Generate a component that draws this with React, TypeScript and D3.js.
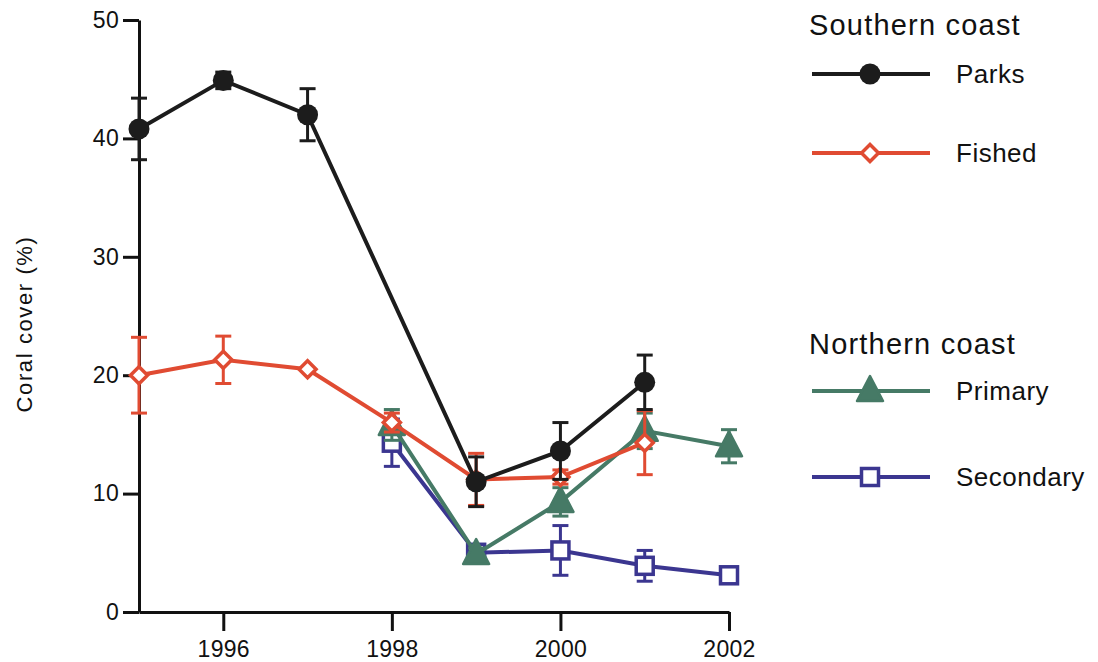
import React, { useEffect, useRef } from 'react';
import * as d3 from 'd3';

// years on the x axis
const years = [1995, 1996, 1997, 1998, 1999, 2000, 2001, 2002];
const xTicks = [1996, 1998, 2000, 2002];
const yTicks = [0, 10, 20, 30, 40, 50];

// mean coral cover (%) and error (+/-), null = not sampled
const parks = [40.8, 44.9, 42.0, null, 11.0, 13.6, 19.4, null];
const parksErr = [2.6, 0.7, 2.2, 0, 2.1, 2.4, 2.3, 0];
const fished = [20.0, 21.3, 20.5, 16.0, 11.2, 11.4, 14.3, null];
const fishedErr = [3.2, 2.0, 0, 0.8, 2.2, 0.6, 2.7, 0];
const primary = [null, null, null, 15.8, 4.9, 9.3, 15.3, 14.0];
const primaryErr = [0, 0, 0, 1.3, 0.5, 1.2, 1.5, 1.4];
const secondary = [null, null, null, 14.3, 5.0, 5.2, 3.9, 3.1];
const secondaryErr = [0, 0, 0, 2.0, 0.4, 2.1, 1.3, 0];

const FONT = '"Liberation Sans", Arial, sans-serif';

const series = [
  { name: 'Secondary', values: secondary, err: secondaryErr, color: '#3b3690', shape: 'square' },
  { name: 'Primary', values: primary, err: primaryErr, color: '#467a66', shape: 'triangle' },
  { name: 'Fished', values: fished, err: fishedErr, color: '#e04b32', shape: 'diamond' },
  { name: 'Parks', values: parks, err: parksErr, color: '#1c1c1c', shape: 'circle' },
];

const legendGroups = [
  { title: 'Southern coast', titleY: 35, items: [{ name: 'Parks', y: 74 }, { name: 'Fished', y: 153 }] },
  { title: 'Northern coast', titleY: 354, items: [{ name: 'Primary', y: 391 }, { name: 'Secondary', y: 477 }] },
];

function drawMarker(g: any, shape: string, color: string, cx: number, cy: number) {
  if (shape === 'circle') {
    g.append('circle').attr('cx', cx).attr('cy', cy).attr('r', 10.5).attr('fill', color);
  } else if (shape === 'diamond') {
    const s = 8.5;
    g.append('path')
      .attr('d', `M${cx},${cy - s}L${cx + s},${cy}L${cx},${cy + s}L${cx - s},${cy}Z`)
      .attr('fill', '#fff').attr('stroke', color).attr('stroke-width', 3.5)
      .attr('stroke-linejoin', 'miter');
  } else if (shape === 'triangle') {
    g.append('path')
      .attr('d', `M${cx},${cy - 15}L${cx + 13},${cy + 10}L${cx - 13},${cy + 10}Z`)
      .attr('fill', color).attr('stroke', color).attr('stroke-width', 2.5)
      .attr('stroke-linejoin', 'round');
  } else {
    g.append('rect')
      .attr('x', cx - 8.5).attr('y', cy - 8.5).attr('width', 17).attr('height', 17)
      .attr('fill', '#fff').attr('stroke', color).attr('stroke-width', 3.5);
  }
}

const App = () => {
  const ref = useRef<SVGSVGElement>(null);

  useEffect(() => {
    const svg = d3.select(ref.current);
    svg.selectAll('*').remove();

    const x = d3.scaleLinear().domain([1995, 2002]).range([139, 729]);
    const y = d3.scaleLinear().domain([0, 50]).range([612, 20]);

    // axes
    const yAxis = svg.append('g')
      .attr('transform', `translate(${x(1995)},0)`)
      .call(d3.axisLeft(y).tickValues(yTicks).tickSize(16).tickPadding(4).tickSizeOuter(0));
    const xAxis = svg.append('g')
      .attr('transform', `translate(0,${y(0)})`)
      .call(d3.axisBottom(x).tickValues(xTicks).tickFormat(d3.format('d')).tickSize(19).tickPadding(10).tickSizeOuter(0));

    [yAxis, xAxis].forEach(a => {
      a.select('.domain').attr('stroke', '#111').attr('stroke-width', 3);
      a.selectAll('.tick line').attr('stroke', '#111').attr('stroke-width', 3);
      a.selectAll('.tick text')
        .attr('fill', '#111')
        .style('font-family', FONT)
        .style('font-size', '23px')
        .style('letter-spacing', '0.3px');
    });

    svg.append('text')
      .attr('transform', `translate(32,${(y(0) + y(50)) / 2 + 8}) rotate(-90)`)
      .attr('text-anchor', 'middle')
      .style('font-family', FONT)
      .style('font-size', '22px')
      .style('letter-spacing', '1.6px')
      .attr('fill', '#111')
      .text('Coral cover (%)');

    // series lines, error bars and markers
    series.forEach(s => {
      const pts = years
        .map((yr, i) => ({ yr, v: s.values[i], e: s.err[i] }))
        .filter(p => p.v !== null) as { yr: number; v: number; e: number }[];
      const g = svg.append('g');

      g.append('path')
        .datum(pts)
        .attr('d', d3.line<any>().x(p => x(p.yr)).y(p => y(p.v)))
        .attr('fill', 'none')
        .attr('stroke', s.color)
        .attr('stroke-width', 4);

      pts.filter(p => p.e > 0).forEach(p => {
        const cx = x(p.yr);
        g.append('line')
          .attr('x1', cx).attr('x2', cx)
          .attr('y1', y(p.v - p.e)).attr('y2', y(p.v + p.e))
          .attr('stroke', s.color).attr('stroke-width', 3);
        [p.v - p.e, p.v + p.e].forEach(v => {
          g.append('line')
            .attr('x1', cx - 8).attr('x2', cx + 8)
            .attr('y1', y(v)).attr('y2', y(v))
            .attr('stroke', s.color).attr('stroke-width', 3);
        });
      });

      pts.forEach(p => drawMarker(g, s.shape, s.color, x(p.yr), y(p.v)));
    });

    // legend
    const lg = svg.append('g');
    legendGroups.forEach(grp => {
      lg.append('text')
        .attr('x', 809).attr('y', grp.titleY)
        .style('font-family', FONT).style('font-size', '29px').style('letter-spacing', '1.2px')
        .attr('fill', '#111')
        .text(grp.title);
      grp.items.forEach(it => {
        const s = series.find(d => d.name === it.name)!;
        lg.append('line')
          .attr('x1', 812).attr('x2', 930).attr('y1', it.y).attr('y2', it.y)
          .attr('stroke', s.color).attr('stroke-width', 4);
        drawMarker(lg, s.shape, s.color, 870, it.y);
        lg.append('text')
          .attr('x', 956).attr('y', it.y + 9)
          .style('font-family', FONT).style('font-size', '26px').style('letter-spacing', '0.5px')
          .attr('fill', '#111')
          .text(it.name);
      });
    });
  }, []);

  return (
    <div>
      <svg ref={ref} width="1098" height="662" style={{ position: 'absolute', left: 0, top: 0, background: '#fff' }}></svg>
    </div>
  );
};

export default App;
